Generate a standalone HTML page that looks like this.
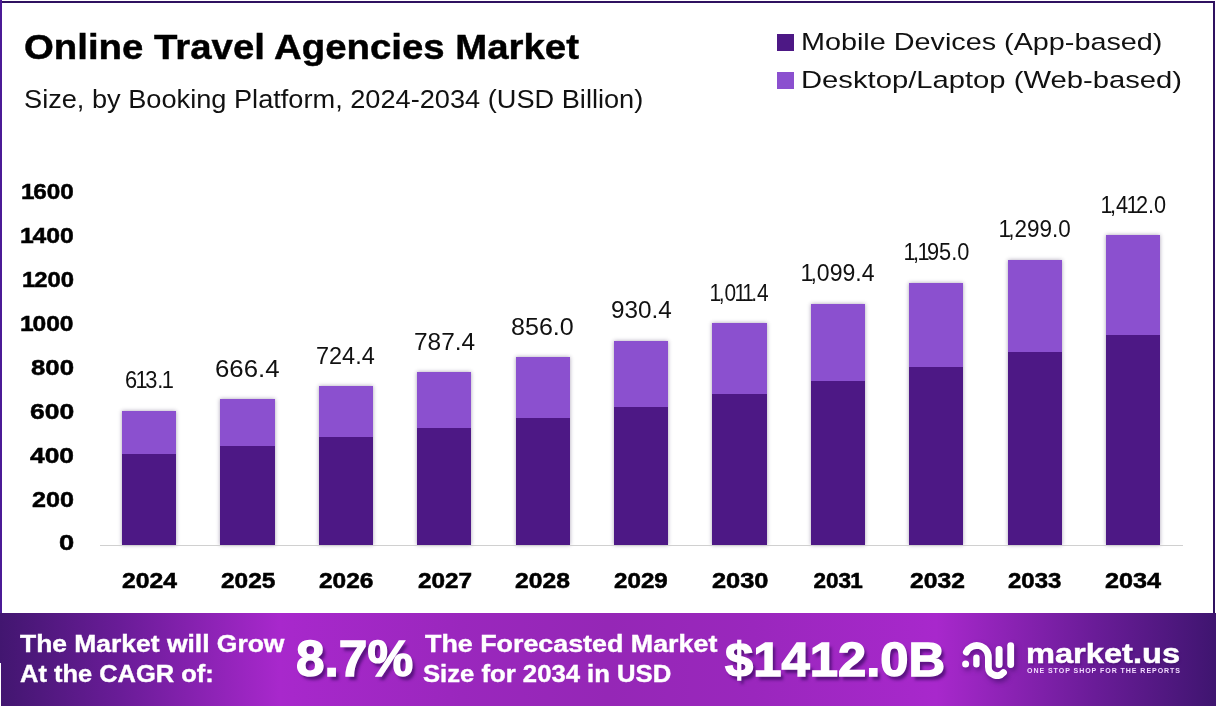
<!DOCTYPE html>
<html lang="en"><head><meta charset="utf-8"><title>Online Travel Agencies Market</title>
<style>
html,body{margin:0;padding:0;background:#fff;}
#page{position:relative;width:1216px;height:712px;overflow:hidden;background:#fff;}
.bar{position:absolute;box-shadow:0 0 4px rgba(40,20,70,.4);}
.bar i{position:absolute;left:0;right:0;display:block;}
.n{font-style:normal;letter-spacing:-.12em;margin-left:-.07em;}.nb{font-style:normal;letter-spacing:-.05em;margin-left:-.04em;}
</style></head><body>
<div id="page">
<div style="position:absolute;left:0;top:1px;width:1215px;height:2px;background:#2f1160;"></div><div style="position:absolute;left:0;top:0;width:2px;height:663px;background:#4b1a96;"></div><div style="position:absolute;left:1213px;top:1px;width:2px;height:613px;background:#2f1160;"></div>
<header><h1 style="position:absolute;margin:0;white-space:nowrap;line-height:1;font-family:'Liberation Sans', sans-serif;font-size:34.2px;font-weight:700;transform-origin:0 0;left:23.88px;top:29.83px;color:#000;transform:scaleX(1.1219);-webkit-text-stroke:0.45px #000;">Online Travel Agencies Market</h1><p style="position:absolute;margin:0;white-space:nowrap;line-height:1;font-family:'Liberation Sans', sans-serif;font-size:25.2px;font-weight:400;transform-origin:0 0;left:24.04px;top:87.18px;color:#111;transform:scaleX(1.0789);">Size, by Booking Platform, 2024-2034 (USD Billion)</p></header>
<div class="legend"><i style="position:absolute;left:777px;top:34px;width:17px;height:17px;background:#4d1885;"></i><span style="position:absolute;margin:0;white-space:nowrap;line-height:1;font-family:'Liberation Sans', sans-serif;font-size:24.3px;font-weight:400;transform-origin:0 0;left:801.03px;top:29.95px;color:#111;transform:scaleX(1.1841);">Mobile Devices (App-based)</span><i style="position:absolute;left:777px;top:72px;width:17px;height:17px;background:#8b50cf;"></i><span style="position:absolute;margin:0;white-space:nowrap;line-height:1;font-family:'Liberation Sans', sans-serif;font-size:24.3px;font-weight:400;transform-origin:0 0;left:801.30px;top:67.64px;color:#111;transform:scaleX(1.2022);">Desktop/Laptop (Web-based)</span></div>
<section class="chart"><span style="position:absolute;margin:0;white-space:nowrap;line-height:1;font-family:'Liberation Sans', sans-serif;font-size:22.6px;font-weight:700;transform-origin:0 0;left:58.69px;top:532.49px;color:#000;transform:scaleX(1.2091);-webkit-text-stroke:0.5px #000;">0</span><span style="position:absolute;margin:0;white-space:nowrap;line-height:1;font-family:'Liberation Sans', sans-serif;font-size:22.6px;font-weight:700;transform-origin:0 0;left:32.00px;top:488.54px;color:#000;transform:scaleX(1.1135);-webkit-text-stroke:0.5px #000;">200</span><span style="position:absolute;margin:0;white-space:nowrap;line-height:1;font-family:'Liberation Sans', sans-serif;font-size:22.6px;font-weight:700;transform-origin:0 0;left:30.00px;top:444.59px;color:#000;transform:scaleX(1.1676);-webkit-text-stroke:0.5px #000;">400</span><span style="position:absolute;margin:0;white-space:nowrap;line-height:1;font-family:'Liberation Sans', sans-serif;font-size:22.6px;font-weight:700;transform-origin:0 0;left:29.83px;top:400.64px;color:#000;transform:scaleX(1.1722);-webkit-text-stroke:0.5px #000;">600</span><span style="position:absolute;margin:0;white-space:nowrap;line-height:1;font-family:'Liberation Sans', sans-serif;font-size:22.6px;font-weight:700;transform-origin:0 0;left:31.00px;top:356.69px;color:#000;transform:scaleX(1.1405);-webkit-text-stroke:0.5px #000;">800</span><span style="position:absolute;margin:0;white-space:nowrap;line-height:1;font-family:'Liberation Sans', sans-serif;font-size:22.6px;font-weight:700;transform-origin:0 0;left:21.00px;top:312.74px;color:#000;transform:scaleX(1.0875);-webkit-text-stroke:0.5px #000;"><i class="nb">1</i>000</span><span style="position:absolute;margin:0;white-space:nowrap;line-height:1;font-family:'Liberation Sans', sans-serif;font-size:22.6px;font-weight:700;transform-origin:0 0;left:22.50px;top:268.79px;color:#000;transform:scaleX(1.0563);-webkit-text-stroke:0.5px #000;"><i class="nb">1</i>200</span><span style="position:absolute;margin:0;white-space:nowrap;line-height:1;font-family:'Liberation Sans', sans-serif;font-size:22.6px;font-weight:700;transform-origin:0 0;left:20.60px;top:224.84px;color:#000;transform:scaleX(1.0958);-webkit-text-stroke:0.5px #000;"><i class="nb">1</i>400</span><span style="position:absolute;margin:0;white-space:nowrap;line-height:1;font-family:'Liberation Sans', sans-serif;font-size:22.6px;font-weight:700;transform-origin:0 0;left:21.60px;top:180.89px;color:#000;transform:scaleX(1.0750);-webkit-text-stroke:0.5px #000;"><i class="nb">1</i>600</span>
<div class="bar" style="left:122.00px;top:410.67px;width:54.3px;height:134.33px;"><i style="top:0;height:43.25px;background:#8b50cf;"></i><i style="top:43.25px;bottom:0;background:#4d1885;"></i></div><span style="position:absolute;margin:0;white-space:nowrap;line-height:1;font-family:'Liberation Sans', sans-serif;font-size:23px;font-weight:400;transform-origin:0 0;left:125.05px;top:369.22px;color:#111;transform:scaleX(0.9490);">6<i class="n">1</i>3.<i class="n">1</i></span><span style="position:absolute;margin:0;white-space:nowrap;line-height:1;font-family:'Liberation Sans', sans-serif;font-size:22.5px;font-weight:700;transform-origin:0 0;left:121.80px;top:570.08px;color:#000;transform:scaleX(1.0980);-webkit-text-stroke:0.55px #000;">2024</span>
<div class="bar" style="left:220.40px;top:398.96px;width:54.3px;height:146.04px;"><i style="top:0;height:47.01px;background:#8b50cf;"></i><i style="top:47.01px;bottom:0;background:#4d1885;"></i></div><span style="position:absolute;margin:0;white-space:nowrap;line-height:1;font-family:'Liberation Sans', sans-serif;font-size:23px;font-weight:400;transform-origin:0 0;left:215.13px;top:357.51px;color:#111;transform:scaleX(1.1214);">666.4</span><span style="position:absolute;margin:0;white-space:nowrap;line-height:1;font-family:'Liberation Sans', sans-serif;font-size:22.5px;font-weight:700;transform-origin:0 0;left:220.50px;top:570.08px;color:#000;transform:scaleX(1.0860);-webkit-text-stroke:0.55px #000;">2025</span>
<div class="bar" style="left:318.80px;top:386.21px;width:54.3px;height:158.79px;"><i style="top:0;height:51.10px;background:#8b50cf;"></i><i style="top:51.10px;bottom:0;background:#4d1885;"></i></div><span style="position:absolute;margin:0;white-space:nowrap;line-height:1;font-family:'Liberation Sans', sans-serif;font-size:23px;font-weight:400;transform-origin:0 0;left:316.48px;top:344.76px;color:#111;transform:scaleX(1.0196);">724.4</span><span style="position:absolute;margin:0;white-space:nowrap;line-height:1;font-family:'Liberation Sans', sans-serif;font-size:22.5px;font-weight:700;transform-origin:0 0;left:318.85px;top:570.08px;color:#000;transform:scaleX(1.0880);-webkit-text-stroke:0.55px #000;">2026</span>
<div class="bar" style="left:417.20px;top:372.37px;width:54.3px;height:172.63px;"><i style="top:0;height:55.54px;background:#8b50cf;"></i><i style="top:55.54px;bottom:0;background:#4d1885;"></i></div><span style="position:absolute;margin:0;white-space:nowrap;line-height:1;font-family:'Liberation Sans', sans-serif;font-size:23px;font-weight:400;transform-origin:0 0;left:413.69px;top:330.92px;color:#111;transform:scaleX(1.0607);">787.4</span><span style="position:absolute;margin:0;white-space:nowrap;line-height:1;font-family:'Liberation Sans', sans-serif;font-size:22.5px;font-weight:700;transform-origin:0 0;left:417.95px;top:570.08px;color:#000;transform:scaleX(1.0816);-webkit-text-stroke:0.55px #000;">2027</span>
<div class="bar" style="left:515.60px;top:357.29px;width:54.3px;height:187.71px;"><i style="top:0;height:60.38px;background:#8b50cf;"></i><i style="top:60.38px;bottom:0;background:#4d1885;"></i></div><span style="position:absolute;margin:0;white-space:nowrap;line-height:1;font-family:'Liberation Sans', sans-serif;font-size:23px;font-weight:400;transform-origin:0 0;left:511.21px;top:315.84px;color:#111;transform:scaleX(1.0911);">856.0</span><span style="position:absolute;margin:0;white-space:nowrap;line-height:1;font-family:'Liberation Sans', sans-serif;font-size:22.5px;font-weight:700;transform-origin:0 0;left:515.45px;top:570.08px;color:#000;transform:scaleX(1.0960);-webkit-text-stroke:0.55px #000;">2028</span>
<div class="bar" style="left:614.00px;top:340.94px;width:54.3px;height:204.06px;"><i style="top:0;height:65.63px;background:#8b50cf;"></i><i style="top:65.63px;bottom:0;background:#4d1885;"></i></div><span style="position:absolute;margin:0;white-space:nowrap;line-height:1;font-family:'Liberation Sans', sans-serif;font-size:23px;font-weight:400;transform-origin:0 0;left:610.64px;top:299.49px;color:#111;transform:scaleX(1.0554);">930.4</span><span style="position:absolute;margin:0;white-space:nowrap;line-height:1;font-family:'Liberation Sans', sans-serif;font-size:22.5px;font-weight:700;transform-origin:0 0;left:614.40px;top:570.08px;color:#000;transform:scaleX(1.0740);-webkit-text-stroke:0.55px #000;">2029</span>
<div class="bar" style="left:712.40px;top:323.14px;width:54.3px;height:221.86px;"><i style="top:0;height:71.34px;background:#8b50cf;"></i><i style="top:71.34px;bottom:0;background:#4d1885;"></i></div><span style="position:absolute;margin:0;white-space:nowrap;line-height:1;font-family:'Liberation Sans', sans-serif;font-size:23px;font-weight:400;transform-origin:0 0;left:711.10px;top:281.69px;color:#111;transform:scaleX(0.9063);"><i class="n">1</i>,0<i class="n">1</i><i class="n">1</i>.4</span><span style="position:absolute;margin:0;white-space:nowrap;line-height:1;font-family:'Liberation Sans', sans-serif;font-size:22.5px;font-weight:700;transform-origin:0 0;left:712.00px;top:570.08px;color:#000;transform:scaleX(1.1286);-webkit-text-stroke:0.55px #000;">2030</span>
<div class="bar" style="left:810.80px;top:303.81px;width:54.3px;height:241.19px;"><i style="top:0;height:77.55px;background:#8b50cf;"></i><i style="top:77.55px;bottom:0;background:#4d1885;"></i></div><span style="position:absolute;margin:0;white-space:nowrap;line-height:1;font-family:'Liberation Sans', sans-serif;font-size:23px;font-weight:400;transform-origin:0 0;left:802.00px;top:262.36px;color:#111;transform:scaleX(1.0014);"><i class="n">1</i>,099.4</span><span style="position:absolute;margin:0;white-space:nowrap;line-height:1;font-family:'Liberation Sans', sans-serif;font-size:22.5px;font-weight:700;transform-origin:0 0;left:813.55px;top:570.08px;color:#000;transform:scaleX(1.0000);-webkit-text-stroke:0.55px #000;">203<i class="nb">1</i></span>
<div class="bar" style="left:909.20px;top:282.80px;width:54.3px;height:262.20px;"><i style="top:0;height:84.30px;background:#8b50cf;"></i><i style="top:84.30px;bottom:0;background:#4d1885;"></i></div><span style="position:absolute;margin:0;white-space:nowrap;line-height:1;font-family:'Liberation Sans', sans-serif;font-size:23px;font-weight:400;transform-origin:0 0;left:904.75px;top:241.35px;color:#111;transform:scaleX(0.9463);"><i class="n">1</i>,<i class="n">1</i>95.0</span><span style="position:absolute;margin:0;white-space:nowrap;line-height:1;font-family:'Liberation Sans', sans-serif;font-size:22.5px;font-weight:700;transform-origin:0 0;left:909.60px;top:570.08px;color:#000;transform:scaleX(1.0959);-webkit-text-stroke:0.55px #000;">2032</span>
<div class="bar" style="left:1007.60px;top:259.94px;width:54.3px;height:285.06px;"><i style="top:0;height:91.63px;background:#8b50cf;"></i><i style="top:91.63px;bottom:0;background:#4d1885;"></i></div><span style="position:absolute;margin:0;white-space:nowrap;line-height:1;font-family:'Liberation Sans', sans-serif;font-size:23px;font-weight:400;transform-origin:0 0;left:1000.20px;top:218.49px;color:#111;transform:scaleX(0.9761);"><i class="n">1</i>,299.0</span><span style="position:absolute;margin:0;white-space:nowrap;line-height:1;font-family:'Liberation Sans', sans-serif;font-size:22.5px;font-weight:700;transform-origin:0 0;left:1008.25px;top:570.08px;color:#000;transform:scaleX(1.0640);-webkit-text-stroke:0.55px #000;">2033</span>
<div class="bar" style="left:1106.00px;top:235.11px;width:54.3px;height:309.89px;"><i style="top:0;height:99.60px;background:#8b50cf;"></i><i style="top:99.60px;bottom:0;background:#4d1885;"></i></div><span style="position:absolute;margin:0;white-space:nowrap;line-height:1;font-family:'Liberation Sans', sans-serif;font-size:23px;font-weight:400;transform-origin:0 0;left:1101.65px;top:193.66px;color:#111;transform:scaleX(0.9433);"><i class="n">1</i>,4<i class="n">1</i>2.0</span><span style="position:absolute;margin:0;white-space:nowrap;line-height:1;font-family:'Liberation Sans', sans-serif;font-size:22.5px;font-weight:700;transform-origin:0 0;left:1105.25px;top:570.08px;color:#000;transform:scaleX(1.1200);-webkit-text-stroke:0.55px #000;">2034</span>
<div style="position:absolute;left:100px;top:544.6px;width:1083px;height:1.8px;background:#d0d0d0;"></div></section>
<footer style="position:absolute;left:0;top:613.4px;width:1216px;height:93px;background:linear-gradient(90deg,#421670 0%,#6a1c98 10%,#a828cc 23%,#9a27bd 38%,#9527b6 50%,#9a27bd 62%,#a828cc 77%,#6a1c98 90%,#3f1570 100%);"><div style="position:absolute;left:0;top:49.6px;width:1.2px;height:44px;background:#fff;"></div></footer>
<div class="bannertext"><span style="position:absolute;margin:0;white-space:nowrap;line-height:1;font-family:'Liberation Sans', sans-serif;font-size:23.8px;font-weight:700;transform-origin:0 0;left:20.30px;top:632.17px;color:#fff;transform:scaleX(1.1109);-webkit-text-stroke:0.4px #fff;">The Market will Grow</span><span style="position:absolute;margin:0;white-space:nowrap;line-height:1;font-family:'Liberation Sans', sans-serif;font-size:23.8px;font-weight:700;transform-origin:0 0;left:19.90px;top:662.37px;color:#fff;transform:scaleX(1.0693);-webkit-text-stroke:0.4px #fff;">At the CAGR of:</span><span style="position:absolute;margin:0;white-space:nowrap;line-height:1;font-family:'Liberation Sans', sans-serif;font-size:50.5px;font-weight:700;transform-origin:0 0;left:295.58px;top:633.88px;color:#fff;transform:scaleX(1.0175);text-shadow:3px 3.5px 3px rgba(50,8,90,.65);-webkit-text-stroke:1.4px #fff;">8.7%</span><span style="position:absolute;margin:0;white-space:nowrap;line-height:1;font-family:'Liberation Sans', sans-serif;font-size:23.8px;font-weight:700;transform-origin:0 0;left:424.50px;top:632.17px;color:#fff;transform:scaleX(1.1278);-webkit-text-stroke:0.4px #fff;">The Forecasted Market</span><span style="position:absolute;margin:0;white-space:nowrap;line-height:1;font-family:'Liberation Sans', sans-serif;font-size:23.8px;font-weight:700;transform-origin:0 0;left:423.42px;top:662.37px;color:#fff;transform:scaleX(1.0789);-webkit-text-stroke:0.4px #fff;">Size for 2034 in USD</span><span style="position:absolute;margin:0;white-space:nowrap;line-height:1;font-family:'Liberation Sans', sans-serif;font-size:49px;font-weight:700;transform-origin:0 0;left:725.30px;top:635.15px;color:#fff;transform:scaleX(1.0360);text-shadow:3px 3.5px 3px rgba(50,8,90,.65);-webkit-text-stroke:1.4px #fff;">$1412.0B</span>
<svg style="position:absolute;left:955px;top:635px;overflow:visible;filter:drop-shadow(2px 3px 2.5px rgba(50,8,90,.55));" width="66" height="50" viewBox="955 635 66 50">
<g fill="none" stroke="#fff" stroke-width="6.8" stroke-linecap="round" stroke-linejoin="round">
<path d="M966.3 652.2 A11.6 11.6 0 0 1 988.4 657.1 L988.4 667 A8.6 8.6 0 0 0 1003.5 672.6"/>
<path d="M976.4 657.8 V664.2" stroke-width="6.4"/>
<path d="M999.1 649.5 V664.5" stroke-width="7"/>
<path d="M1010.7 645.6 V664.6"/>
</g><circle cx="965.6" cy="664.1" r="3.5" fill="#fff"/></svg>
<span style="position:absolute;margin:0;white-space:nowrap;line-height:1;font-family:'Liberation Sans', sans-serif;font-size:27.6px;font-weight:700;transform-origin:0 0;left:1025.82px;top:640.04px;color:#fff;transform:scaleX(1.1814);text-shadow:1px 2px 2px rgba(50,8,90,.4);-webkit-text-stroke:0.5px #fff;">market.us</span><span style="position:absolute;margin:0;white-space:nowrap;line-height:1;font-family:'Liberation Sans', sans-serif;font-size:6.7px;font-weight:700;transform-origin:0 0;left:1027.00px;top:668.00px;color:#f3dcff;transform:scaleX(1.0510);letter-spacing:.9px;">ONE STOP SHOP FOR THE REPORTS</span></div>
</div>
</body></html>
